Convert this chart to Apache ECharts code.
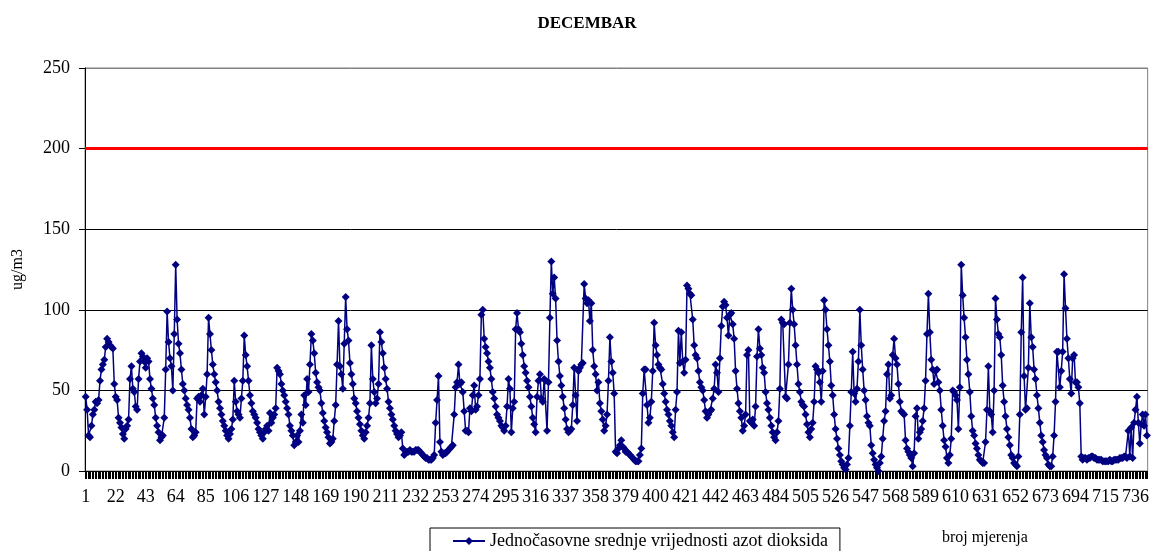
<!DOCTYPE html>
<html>
<head>
<meta charset="utf-8">
<script src="https://cdn.jsdelivr.net/npm/echarts@6/dist/echarts.min.js"></script>
<style>html,body{margin:0;padding:0;background:#fff;}#c{width:1152px;height:551px;}</style>
</head>
<body>
<div id="c"></div>
<script>
// Hourly NO2 values (ug/m3), December
const seg1 = [
46,38,22,21,28,35,38,43,42,44,
56,63,66,69,77,82,80,78,77,76,
54,46,44,33,30,27,23,20,26,28,
32,57,65,51,49,40,38,57,68,73,
71,68,64,70,68,57,51,45,41,33,
28,24,19,21,22,33,63,99,80,70,
65,50,85,128,94,79,73,63,54,50,
45,41,38,33,26,21,22,24,45,46,
43,47,51,35,46,60,95,85,75,66,
60,55,50,43,39,35,31,28,25,22,
20,23,26,32,56,43,37,35,33,45,
56,84,72,65,56,47,42,37,35,33,
30,26,24,22,20,24,26,28,25,36,
30,33,35,39,64,62,60,54,50,47,
43,39,35,28,25,22,16,18,22,18
];
const seg2 = [
25,35,30,47,41,57,49,66,85,81,
73,61,55,52,50,42,36,31,27,24,
21,17,18,20,31,41,66,93,65,60,
51,79,108,88,81,67,60,54,45,42,
37,33,29,25,22,20,24,28,33,42,
78,57,49,42,45,54,86,80,73,64,
57,51,43,39,35,32,28,25,23,21,
22,24,14,10,11,12,12,13,12,12,
12,13,13,13,12,11,10,9,8,8,
7,7,7,8,10,30,44,59,18,12,
10,11,11,12,13,14,15,16,35,52,
55,66,54,55,49,37,25,25,24,39,
37,47,53,38,40,47,57,97,100,82,
77,73,68,64,57,49,45,40,35,33,
31,28,27,25,28,40,57,51
];
const seg3 = [
24,39,43,88,98,88,86,79,72,65,
61,56,52,46,40,33,29,24,46,56,
60,45,43,57,56,25,55,95,130,110,
120,107,81,68,59,53,46,39,32,26,
24,25,26,41,64,47,31,62,64,66,
67,116,107,104,106,93,104,75,65,60,
50,55,42,37,32,25,28,35,56,83,
68,61,48,12,11,14,16,19,15,14,
12,12,11,10,9,8,7,6,6,6,
10,14,48,63,63,41,30,33,43,62,
92,78,72,66,64,63,54,48,43,38,
35,31,28,24,21,38,49,87,67,86,
68,61,69,115,113,110,109,94,78,72,
70,62,55,52,50,44,37,33,35,37,
38,45,51,66,61,49,70,90,102
];
const seg4 = [
105,103,95,84,97,98,91,82,62,51,
42,37,33,25,28,35,72,75,31,30,
32,28,40,71,88,76,72,64,61,49,
42,38,33,28,24,21,19,24,31,51,
94,92,91,46,45,66,92,113,100,91,
78,66,54,49,43,41,40,35,29,24,
21,26,30,43,65,63,61,55,43,62,
106,100,88,78,68,53,47,35,26,20,
14,10,6,4,2,1,4,8,28,49,
74,48,43,51,68,100,78,63,50,44,
34,30,28,16,11,7,4,2,0,5,
9,20,31,37,60,66,45,47,72,82,
70,66,54,43,37,36,35,19,14,12,
10,8,3,11,34,39,20,24,26,31,
39,56,85,110,86,69,63,54,62
];
const seg5 = [
63,55,50,38,28,19,15,8,5,10,
20,50,49,47,44,26,52,128,109,95,
83,69,60,49,34,25,22,17,14,10,
7,6,5,5,18,38,65,37,35,24,
50,107,94,85,83,72,53,43,34,26,
21,16,10,8,5,4,3,9,35,86,
120,59,38,39,64,104,83,77,63,57,
47,39,30,22,18,13,10,8,4,3,
3,9,22,43,74,74,52,62,74,122,
101,82,70,57,48,70,72,55,55,52,
42,9,7,8,8,7,8,8,9,9,
8,8,7,7,7,7,6,6,6,6,
6,7,6,6,7,7,7,7,8,8,
8,9,9,8,25,9,27,8,30,38,
46,30,17,29,35,28,35,22
];
const LIMIT = 200;
const yTicks = [0, 50, 100, 150, 200, 250];
const seriesName = 'Jednočasovne srednje vrijednosti azot dioksida';

const values = seg1.concat(seg2, seg3, seg4, seg5);
const categories = values.map((v, i) => String(i + 1));

const F = 'Liberation Serif, Times New Roman, serif';
const chart = echarts.init(document.getElementById('c'), null, {renderer: 'canvas'});
chart.setOption({
  animation: false,
  backgroundColor: '#fff',
  textStyle: {fontFamily: F},
  title: {
    text: 'DECEMBAR', left: 582, top: 10, textAlign: 'center',
    textStyle: {fontFamily: F, fontSize: 17, fontWeight: 'bold', color: '#000'}
  },
  grid: {left: 85, right: 4, top: 68, bottom: 80, show: true, borderColor: '#808080', borderWidth: 1, backgroundColor: '#fff'},
  legend: {
    left: 430, top: 528, orient: 'horizontal',
    borderColor: '#000', borderWidth: 1, borderRadius: 0,
    padding: [4, 12, 14, 22],
    itemWidth: 32, itemHeight: 10, itemGap: 4,
    textStyle: {fontFamily: F, fontSize: 18, color: '#000'},
    data: [{name: seriesName}]
  },
  xAxis: {
    type: 'category', data: categories, boundaryGap: true,
    axisLine: {lineStyle: {color: '#000', width: 1}},
    axisTick: {show: true, interval: 0, length: 8, lineStyle: {color: '#000', width: 1}},
    axisLabel: {interval: 20, margin: 17, fontFamily: F, fontSize: 18, color: '#000'},
    splitLine: {show: false}
  },
  yAxis: {
    type: 'value', min: yTicks[0], max: yTicks[yTicks.length - 1], interval: 50,
    name: 'ug/m3', nameLocation: 'middle', nameGap: 59, nameRotate: 90,
    nameTextStyle: {fontFamily: F, fontSize: 16, color: '#000'},
    axisLine: {show: true, lineStyle: {color: '#000', width: 1}},
    axisTick: {show: true, length: 6, lineStyle: {color: '#000'}},
    axisLabel: {margin: 15, fontFamily: F, fontSize: 18, color: '#000'},
    splitLine: {show: true, lineStyle: {color: ['#000', '#000', '#000', '#000', '#000', '#808080'], width: 1}}
  },
  graphic: [{
    type: 'text', left: 942, top: 530,
    style: {text: 'broj mjerenja', font: '16px ' + F, fill: '#000'}
  }],
  series: [{
    name: seriesName, type: 'line', data: values,
    symbol: 'diamond', symbolSize: 8, showAllSymbol: true,
    itemStyle: {color: '#000080'},
    lineStyle: {color: '#000080', width: 1.5},
    emphasis: {disabled: true},
    markLine: {
      silent: true, symbol: ['none', 'none'],
      label: {show: false},
      lineStyle: {color: '#ff0000', width: 3, type: 'solid'},
      data: [{yAxis: LIMIT}]
    }
  }]
});
</script>
</body>
</html>
